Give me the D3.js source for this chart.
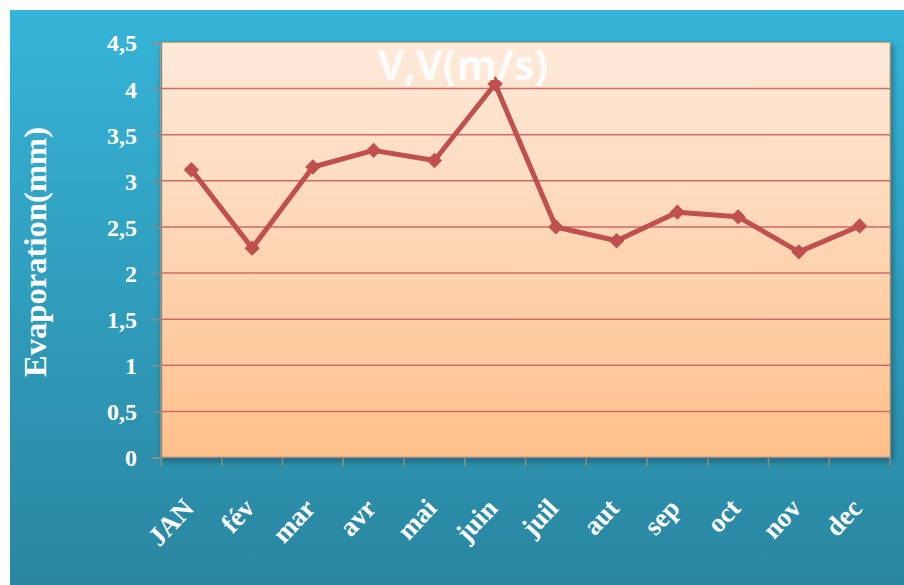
<!DOCTYPE html>
<html>
<head>
<meta charset="utf-8">
<script src="https://cdn.jsdelivr.net/npm/d3@7"></script>
<style>
  body { margin: 0; background: #fff; }
  .ylab { font-family: "Liberation Serif", serif; font-weight: bold; fill: #fff; }
</style>
</head>
<body>
<div id="chart"></div>
<script>
// data
var months = ["JAN", "fév", "mar", "avr", "mai", "juin", "juil", "aut", "sep", "oct", "nov", "dec"];
var evaporation = [3.12, 2.27, 3.15, 3.33, 3.22, 4.05, 2.5, 2.35, 2.66, 2.61, 2.23, 2.51];
var yTicks = [0, 0.5, 1, 1.5, 2, 2.5, 3, 3.5, 4, 4.5];

var svgWidth = 904;
var svgHeight = 585;

// plot borders
var margin = { top: 42.5, right: 14, bottom: 127.5, left: 161 };
var width = svgWidth - margin.left - margin.right;
var height = svgHeight - margin.top - margin.bottom;

var svg = d3.select("#chart")
  .append("svg")
  .attr("width", svgWidth)
  .attr("height", svgHeight);

var defs = svg.append("defs");

var bgGrad = defs.append("linearGradient")
  .attr("id", "bgGrad").attr("x1", 0).attr("y1", 0).attr("x2", 0).attr("y2", 1);
bgGrad.append("stop").attr("offset", "0%").attr("stop-color", "#36b4d8");
bgGrad.append("stop").attr("offset", "100%").attr("stop-color", "#2a86a0");

var plotGrad = defs.append("linearGradient")
  .attr("id", "plotGrad").attr("x1", 0).attr("y1", 0).attr("x2", 0).attr("y2", 1);
plotGrad.append("stop").attr("offset", "0%").attr("stop-color", "#feeadb");
plotGrad.append("stop").attr("offset", "100%").attr("stop-color", "#fec08a");

var shadow = defs.append("filter").attr("id", "shadow")
  .attr("x", "-5%").attr("y", "-5%").attr("width", "110%").attr("height", "115%");
shadow.append("feDropShadow")
  .attr("dx", 2).attr("dy", 3).attr("stdDeviation", 3)
  .attr("flood-color", "#0a3a4a").attr("flood-opacity", 0.6);

// outer background
svg.append("rect")
  .attr("x", 10).attr("y", 10)
  .attr("width", svgWidth - 10).attr("height", svgHeight - 10)
  .attr("fill", "url(#bgGrad)");

var chartGroup = svg.append("g")
  .attr("transform", `translate(${margin.left}, ${margin.top})`);

// scales
var xScale = d3.scaleBand()
  .domain(months)
  .range([0, width]);

var yScale = d3.scaleLinear()
  .domain([0, 4.5])
  .range([height, 0]);

// plot area
chartGroup.append("rect")
  .attr("width", width).attr("height", height)
  .attr("fill", "url(#plotGrad)")
  .attr("stroke", "#e8a060").attr("stroke-width", 1)
  .attr("filter", "url(#shadow)");

// gridlines
chartGroup.selectAll("line.grid")
  .data(yTicks.filter(d => d > 0 && d < 4.5))
  .enter()
  .append("line")
  .attr("class", "grid")
  .attr("x1", 0).attr("x2", width)
  .attr("y1", d => yScale(d)).attr("y2", d => yScale(d))
  .attr("stroke", "#cf6a66").attr("stroke-width", 1.5);

// y axis
var leftAxis = d3.axisLeft(yScale)
  .tickValues(yTicks)
  .tickSize(9)
  .tickPadding(15)
  .tickFormat(d => String(d).replace(".", ","));

var yAxis = chartGroup.append("g").call(leftAxis);
yAxis.select(".domain").attr("stroke", "#8a8a8a").attr("stroke-width", 1.5);
yAxis.selectAll(".tick line").attr("stroke", "#8a8a8a").attr("stroke-width", 1.5);
yAxis.selectAll(".tick text")
  .attr("class", "ylab")
  .attr("font-size", 24)
  .attr("dy", "0.35em");

// x axis, ticks on band edges
var xTickGroup = chartGroup.append("g")
  .attr("transform", `translate(0, ${height})`);
xTickGroup.append("line")
  .attr("x1", 0).attr("x2", width)
  .attr("stroke", "#8a8a8a").attr("stroke-width", 1.5);
xTickGroup.selectAll("line.xt")
  .data(months.concat(["end"]))
  .enter()
  .append("line")
  .attr("class", "xt")
  .attr("x1", (d, i) => i * xScale.bandwidth())
  .attr("x2", (d, i) => i * xScale.bandwidth())
  .attr("y1", 0).attr("y2", 9)
  .attr("stroke", "#8a8a8a").attr("stroke-width", 1.5);

xTickGroup.selectAll("text.xlab")
  .data(months)
  .enter()
  .append("text")
  .attr("class", "ylab")
  .attr("font-size", 27)
  .attr("text-anchor", "end")
  .attr("transform", d => `translate(${xScale(d) + xScale.bandwidth() / 2 - 10}, 39) rotate(-47)`)
  .attr("dy", "0.7em")
  .text(d => d);

// line
var line = d3.line()
  .x((d, i) => xScale(months[i]) + xScale.bandwidth() / 2)
  .y(d => yScale(d));

chartGroup.append("path")
  .datum(evaporation)
  .attr("d", line)
  .attr("fill", "none")
  .attr("stroke", "#c0504d")
  .attr("stroke-width", 5)
  .attr("stroke-linejoin", "round");

chartGroup.selectAll("path.marker")
  .data(evaporation)
  .enter()
  .append("path")
  .attr("class", "marker")
  .attr("d", d3.symbol().type(d3.symbolDiamond2).size(150))
  .attr("transform", (d, i) => `translate(${xScale(months[i]) + xScale.bandwidth() / 2}, ${yScale(d)})`)
  .attr("fill", "#c0504d");

// title inside the plot
chartGroup.append("text")
  .attr("x", 302)
  .attr("y", 37)
  .attr("text-anchor", "middle")
  .attr("font-family", "Open Sans, sans-serif")
  .attr("font-weight", "bold")
  .attr("font-size", 41)
  .attr("fill", "#fff")
  .attr("fill-opacity", 0.92)
  .text("V,V(m/s)");

// y axis title
svg.append("text")
  .attr("class", "ylab")
  .attr("transform", "translate(46, 252) rotate(-90)")
  .attr("text-anchor", "middle")
  .attr("font-size", 31)
  .attr("textLength", 250)
  .attr("lengthAdjust", "spacingAndGlyphs")
  .text("Evaporation(mm)");
</script>
</body>
</html>
